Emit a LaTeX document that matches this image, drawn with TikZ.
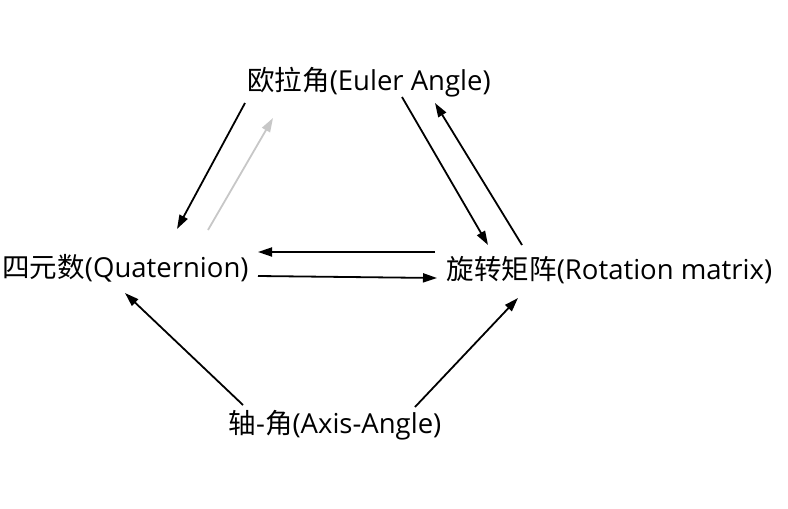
\documentclass[tikz,border=0pt]{standalone}
\usepackage{fontspec}
\setmainfont{Open Sans}
\newfontfamily\cjk{Noto Sans CJK SC}
\usetikzlibrary{calc,arrows.meta}
\begin{document}
\begin{tikzpicture}[x=1pt,y=-1pt,
  lbl/.style={inner sep=0pt,font=\fontsize{27.5}{32}\selectfont,text=black},
  arr/.style={-{Triangle[length=14pt,width=9pt]},line width=1.8pt,black},
  garr/.style={arr,black!22}]
\useasboundingbox (0,0) rectangle (788,509);
\node[lbl] (e) at (369,82) {{\cjk 欧拉角}(Euler Angle)};
\node[lbl] (q) at (125.5,268) {{\cjk 四元数}(Quaternion)};
\node[lbl] (r) at (609.5,270) {{\cjk 旋转矩阵}(Rotation matrix)};
\node[lbl] (a) at (335,425) {{\cjk 轴}-{\cjk 角}(Axis-Angle)};
\draw[arr] ($(e)+(-124,21)$) -- ($(q)+(51.5,-39)$);
\draw[garr] ($(q)+(82.5,-38)$) -- ($(e)+(-96,36)$);
\draw[arr] ($(e)+(33,15)$) -- ($(r)+(-121.5,-25)$);
\draw[arr] ($(r)+(-87.5,-25)$) -- ($(e)+(66,21)$);
\draw[arr] ($(r)+(-174.5,-18)$) -- ($(q)+(132.5,-16)$);
\draw[arr] ($(q)+(132.5,8)$) -- ($(r)+(-172.5,8)$);
\draw[arr] ($(a)+(-92,-20)$) -- ($(q)+(-0.5,25)$);
\draw[arr] ($(a)+(80,-18)$) -- ($(r)+(-91.5,28)$);
\end{tikzpicture}
\end{document}
